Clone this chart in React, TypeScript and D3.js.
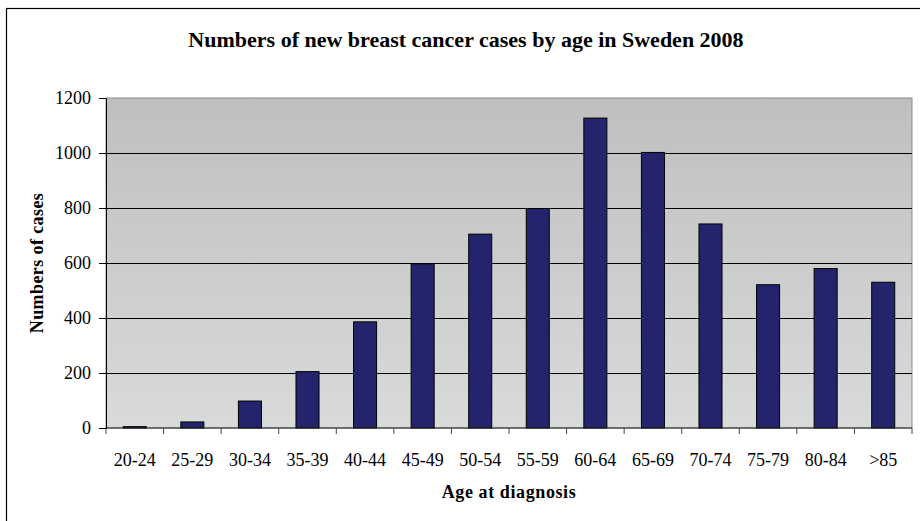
import { useEffect, useRef } from "react";
import * as d3 from "d3";

const WIDTH = 920;
const HEIGHT = 521;
const MARGIN = { top: 98, right: 8, bottom: 93, left: 106 };

const ageGroups = [
  "20-24", "25-29", "30-34", "35-39", "40-44", "45-49", "50-54",
  "55-59", "60-64", "65-69", "70-74", "75-79", "80-84", ">85",
];
const cases = [5, 22, 98, 205, 386, 597, 705, 798, 1127, 1002, 742, 521, 580, 530];
const yTicks = [0, 200, 400, 600, 800, 1000, 1200];

const FONT = "'Liberation Serif', 'Times New Roman', serif";

export default function App() {
  const svgRef = useRef<SVGSVGElement | null>(null);

  useEffect(() => {
    if (!svgRef.current) return;
    const svg = d3.select(svgRef.current);
    svg.selectAll("*").remove();

    const innerWidth = WIDTH - MARGIN.left - MARGIN.right;
    const innerHeight = HEIGHT - MARGIN.top - MARGIN.bottom;

    const x = d3.scaleBand().domain(ageGroups).range([0, innerWidth]).paddingInner(0.6).paddingOuter(0.3);
    const xCat = d3.scaleBand().domain(ageGroups).range([0, innerWidth]);
    const y = d3.scaleLinear().domain([0, 1200]).range([innerHeight, 0]);

    // background gradient
    const defs = svg.append("defs");
    const grad = defs
      .append("linearGradient")
      .attr("id", "plotBg")
      .attr("x1", 0).attr("y1", 0).attr("x2", 0).attr("y2", 1);
    grad.append("stop").attr("offset", "0%").attr("stop-color", "#bfbfbf");
    grad.append("stop").attr("offset", "100%").attr("stop-color", "#d9dada");

    // outer frame
    svg
      .append("rect")
      .attr("x", 6.5)
      .attr("y", 8.5)
      .attr("width", WIDTH + 10)
      .attr("height", HEIGHT + 10)
      .attr("fill", "#fff")
      .attr("stroke", "#000")
      .attr("stroke-width", 1.2);

    // title
    svg
      .append("text")
      .attr("x", 466)
      .attr("y", 47)
      .attr("text-anchor", "middle")
      .style("font-family", FONT)
      .style("font-weight", "bold")
      .style("font-size", "22px")
      .text("Numbers of new breast cancer cases by age in Sweden 2008");

    const g = svg.append("g").attr("transform", `translate(${MARGIN.left},${MARGIN.top})`);

    g.append("rect")
      .attr("width", innerWidth)
      .attr("height", innerHeight)
      .attr("fill", "url(#plotBg)")
      .attr("stroke", "#8a8a8a")
      .attr("stroke-width", 1);

    // gridlines
    g.append("g")
      .call(
        d3.axisLeft(y).tickValues(yTicks.slice(1, -1)).tickSize(-innerWidth).tickFormat(() => ""),
      )
      .call((sel: any) => {
        sel.select(".domain").remove();
        sel.selectAll("line").attr("stroke", "#000").attr("stroke-width", 1);
      });

    // bars
    g.selectAll("rect.bar")
      .data(cases)
      .enter()
      .append("rect")
      .attr("class", "bar")
      .attr("x", (_d: number, i: number) => x(ageGroups[i]) ?? 0)
      .attr("width", x.bandwidth())
      .attr("y", (d: number) => y(d))
      .attr("height", (d: number) => innerHeight - y(d))
      .attr("fill", "#24246c")
      .attr("stroke", "#000")
      .attr("stroke-width", 1);

    // x axis
    const xAxis = g.append("g").attr("transform", `translate(0,${innerHeight})`);
    xAxis
      .append("line")
      .attr("x1", 0)
      .attr("x2", innerWidth)
      .attr("stroke", "#222")
      .attr("stroke-width", 1);
    const bounds = ageGroups.map((c) => xCat(c) ?? 0).concat([innerWidth]);
    xAxis
      .selectAll("line.tick")
      .data(bounds)
      .enter()
      .append("line")
      .attr("class", "tick")
      .attr("x1", (d: number) => d)
      .attr("x2", (d: number) => d)
      .attr("y1", 0)
      .attr("y2", 6)
      .attr("stroke", "#444");
    xAxis
      .selectAll("text")
      .data(ageGroups)
      .enter()
      .append("text")
      .attr("x", (d: string) => (xCat(d) ?? 0) + xCat.bandwidth() / 2)
      .attr("y", 38)
      .attr("text-anchor", "middle")
      .style("font-family", FONT)
      .style("font-size", "18px")
      .text((d: string) => d);

    // y axis
    g.append("g")
      .call(
        d3
          .axisLeft(y)
          .tickValues(yTicks)
          .tickSize(7)
          .tickSizeOuter(0)
          .tickPadding(8)
          .tickFormat((v: number) => `${v}`),
      )
      .call((sel: any) => {
        sel.select(".domain").attr("stroke", "#000");
        sel.selectAll("line").attr("stroke", "#000");
        sel
          .selectAll("text")
          .attr("fill", "#000")
          .style("font-family", FONT)
          .style("font-size", "18px");
      });

    // axis titles
    svg
      .append("text")
      .attr("x", MARGIN.left + innerWidth / 2)
      .attr("y", 498)
      .attr("text-anchor", "middle")
      .style("font-family", FONT)
      .style("font-weight", "bold")
      .style("font-size", "18px")
      .style("letter-spacing", "0.6px")
      .text("Age at diagnosis");

    svg
      .append("text")
      .attr("transform", `translate(43,${MARGIN.top + innerHeight / 2}) rotate(-90)`)
      .attr("text-anchor", "middle")
      .style("font-family", FONT)
      .style("font-weight", "bold")
      .style("font-size", "18px")
      .style("letter-spacing", "0.4px")
      .text("Numbers of cases");
  }, []);

  return (
    <svg
      ref={svgRef}
      width={WIDTH}
      height={HEIGHT}
      style={{ position: "absolute", left: 0, top: 0, display: "block" }}
    />
  );
}
